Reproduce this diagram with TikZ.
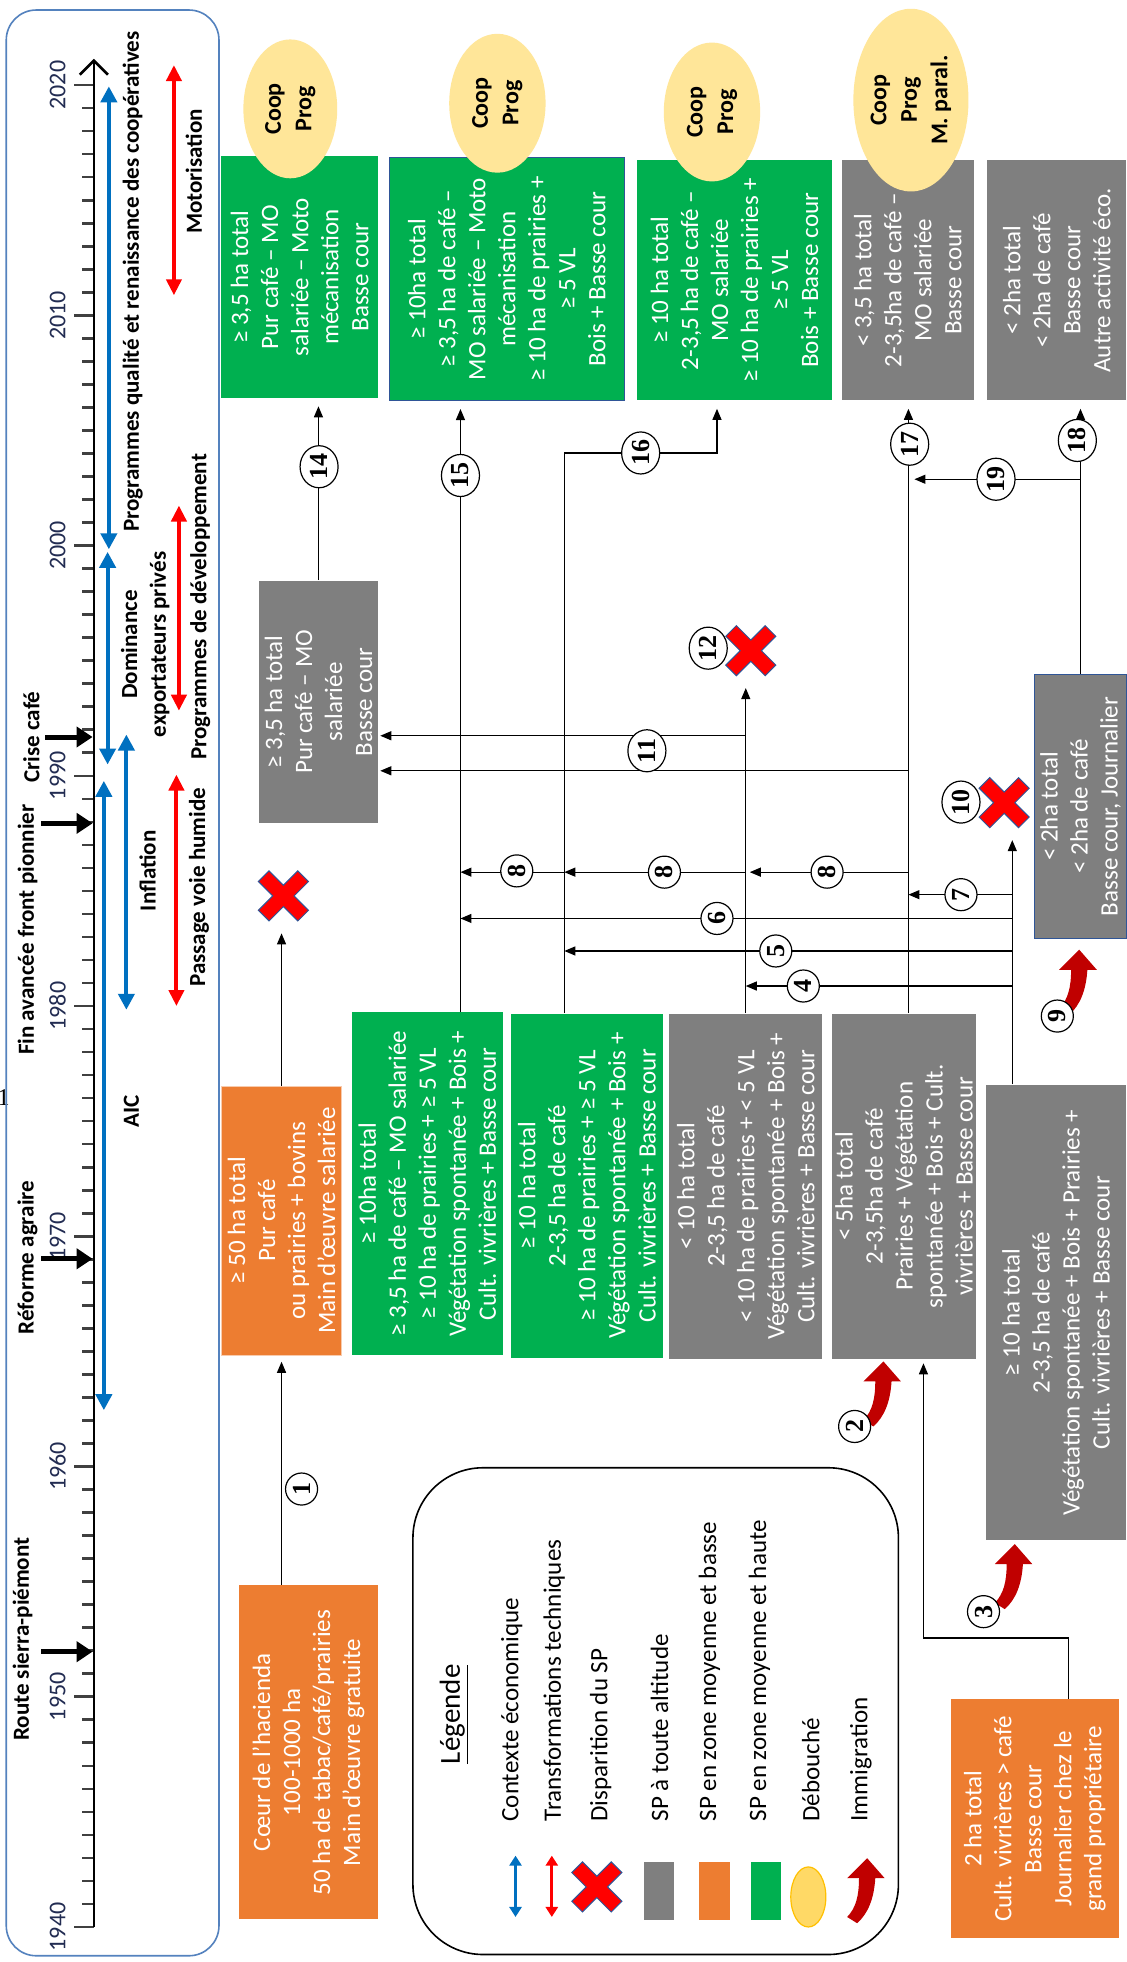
\documentclass[tikz,border=0pt]{standalone}
\usepackage{fontspec}
\setmainfont{Carlito}
\newfontfamily\numfont{Liberation Serif}
\usetikzlibrary{arrows.meta,shapes.geometric}

\definecolor{spgreen}{RGB}{0,176,80}
\definecolor{spgray}{RGB}{127,127,127}
\definecolor{sporange}{RGB}{237,125,49}
\definecolor{coopyellow}{RGB}{255,230,153}
\definecolor{legyellow}{RGB}{255,217,102}
\definecolor{legedge}{RGB}{255,192,0}
\definecolor{ctxblue}{RGB}{0,112,192}
\definecolor{immred}{RGB}{192,0,0}
\definecolor{yearblue}{RGB}{34,44,82}
\definecolor{panelblue}{RGB}{84,130,190}
\definecolor{edgeblue}{RGB}{47,85,151}
\definecolor{axisgray}{RGB}{64,64,64}
\definecolor{peach}{RGB}{248,203,173}

\newcommand{\boxfont}{\fontsize{12.5}{15}\selectfont}
\newcommand{\tlfont}{\bfseries\fontsize{11.5}{14.4}\selectfont}
\newcommand{\yrfont}{\fontsize{12}{14}\selectfont}
\newcommand{\coopfont}{\bfseries\fontsize{12}{15.25}\selectfont}
\newcommand{\nbfont}{\numfont\bfseries\fontsize{13}{13}\selectfont}
\newcommand{\legfont}{\fontsize{14.5}{16}\selectfont}
% red cross (disparition) around a named node
\newcommand{\redx}[1]{\filldraw[crossx, shift={#1}] (8.5,0) -- (20,11.5) -- (11.5,20) -- (0,8.5) -- (-11.5,20) -- (-20,11.5) -- (-8.5,0) -- (-20,-11.5) -- (-11.5,-20) -- (0,-8.5) -- (11.5,-20) -- (20,-11.5) -- cycle;}
% curved immigration arrow, tip at #1
\newcommand{\immarrow}[1]{\fill[immred, shift={#1}] (0,0) -- (14,16) -- (6.5,16) .. controls (5.5,32) and (1,44) .. (-8,52) -- (-16,47) .. controls (-9,40) and (-6.5,30) .. (-6.5,16) -- (-16,16) -- cycle;}

\begin{document}
\begin{tikzpicture}[x=0.625pt,y=-0.625pt]
    \tikzstyle{box}=[rotate=90, align=center, text=white, inner sep=0pt, font=\boxfont]
    \tikzstyle{gbox}=[box, fill=spgreen]
    \tikzstyle{grbox}=[box, fill=spgray]
    \tikzstyle{obox}=[box, fill=sporange]
    \tikzstyle{coop}=[ellipse, rotate=90, fill=coopyellow, align=center, inner sep=0pt, font=\coopfont]
    \tikzstyle{num}=[circle, draw, fill=white, rotate=90, inner sep=0pt, minimum size=16pt, line width=0.6pt, font=\nbfont]
    \tikzstyle{numw}=[num, ellipse, minimum width=21pt, minimum height=19pt]
    \tikzstyle{arr}=[line width=0.6pt, -{Triangle[length=5.5pt,width=4.5pt]}]
    \tikzstyle{xnode}=[minimum size=25pt, inner sep=0pt]
    \tikzstyle{crossx}=[fill=red, draw=edgeblue, line width=0.5pt]
    \tikzstyle{tl}=[rotate=90, align=center, font=\tlfont]
    \tikzstyle{ctx}=[ctxblue, line width=2pt, {Triangle[length=8pt,width=8pt]}-{Triangle[length=8pt,width=8pt]}]
    \tikzstyle{tech}=[red, line width=2pt, {Triangle[length=8pt,width=7.5pt]}-{Triangle[length=8pt,width=7.5pt]}]
    \tikzstyle{evt}=[black, line width=2.5pt, -{Triangle[length=8pt,width=10pt]}]
    \tikzstyle{legtext}=[rotate=90, anchor=west, inner sep=0pt, font=\boxfont]
    \tikzstyle{legsq}=[minimum width=15pt, minimum height=29pt, inner sep=0pt]
    \tikzset{sz/.style 2 args={minimum height=#1*0.625pt, minimum width=#2*0.625pt}}

    \useasboundingbox (0,0) rectangle (900,1568);
    \fill[white] (0,0) rectangle (900,1568);
    \node[font=\numfont\fontsize{12}{12}\selectfont, inner sep=0pt] (pg) at (3,877) {1};

    % time line
    \draw[panelblue, line width=0.8pt, rounded corners=15pt] (5,8) rectangle (175,1563);
    \foreach \y in {0,...,80}
        \draw[axisgray, line width=1.3pt] (75,{1540-\y*18.4}) -- ++(-9.5,0);
    \foreach \yy in {1940,1950,...,2020} {
        \draw[axisgray, line width=1.3pt] (75,{1540-(\yy-1940)*18.4}) -- ++(-16,0);
        \node[rotate=90, text=yearblue, font=\yrfont] (yr\yy) at (46,{1540-(\yy-1940)*18.4}) {\yy};
    }
    \draw[black, line width=1.3pt, -{Straight Barb[length=7pt,width=14pt]}] (75,1540) -- (75,47);

    \draw[evt] (33,1320) -- (74,1320);
    \node[tl] (route) at (18,1310) {Route sierra-piémont};
    \draw[evt] (33,1006) -- (74,1006);
    \node[tl] (reforme) at (22,1005) {Réforme agraire};
    \draw[evt] (33,658) -- (74,658);
    \node[tl] (front) at (22,743) {Fin avancée front pionnier};
    \draw[evt] (36,589) -- (74,589);
    \node[tl] (crise) at (25,589) {Crise café};

    \draw[ctx] (87,69) -- (87,439);
    \node[tl] (qualite) at (106,225) {Programmes qualité et renaissance des coopératives};
    \draw[ctx] (86,441) -- (86,611);
    \node[tl] (dominance) at (116,515) {Dominance\\exportateurs privés};
    \draw[ctx] (83,624) -- (83,1127);
    \node[tl] (aic) at (105,888) {AIC};
    \draw[ctx] (101,587) -- (101,807);
    \node[tl] (inflation) at (118,696) {Inflation};
    \draw[tech] (139,52) -- (139,236);
    \node[tl] (moto) at (155,137) {Motorisation};
    \draw[tech] (143,404) -- (143,568);
    \node[tl] (progdev) at (160,485) {Programmes de développement};
    \draw[tech] (141,619) -- (141,804);
    \node[tl] (voie) at (159,709) {Passage voie humide};

    % production systems
    \node[gbox, sz={125}{193}] (G1) at (239.5,221.5) {≥ 3,5 ha total\\Pur café – MO\\salariée – Moto\\mécanisation\\Basse cour};
    \node[gbox, draw=edgeblue, line width=0.6pt, sz={188}{194}] (G2) at (405,223) {≥ 10ha total\\≥ 3,5 ha de café –\\MO salariée – Moto\\mécanisation\\≥ 10 ha de prairies +\\≥ 5 VL\\Bois + Basse cour};
    \node[gbox, sz={156}{192}] (G3) at (587,224) {≥ 10 ha total\\2-3,5 ha de café –\\MO salariée\\≥ 10 ha de prairies +\\≥ 5 VL\\Bois + Basse cour};
    \node[grbox, sz={105}{192}] (Gr1) at (725.5,224) {< 3,5 ha total\\2-3,5ha de café –\\MO salariée\\Basse cour};
    \node[grbox, sz={111}{192}] (Gr2) at (844.5,224) {< 2ha total\\< 2ha de café\\Basse cour\\Autre activité éco.};
    \node[grbox, sz={95}{194}] (Gr3) at (254.5,561) {≥ 3,5 ha total\\Pur café – MO\\salariée\\Basse cour};
    \node[obox, draw=peach, line width=0.6pt, sz={96}{215}] (O1) at (225,975.5) {≥ 50 ha total\\Pur café\\ou prairies + bovins\\Main d’œuvre salariée};
    \node[gbox, sz={121}{274}] (G4) at (341.5,946) {≥ 10ha total\\≥ 3,5 ha de café – MO salariée\\≥ 10 ha de prairies + ≥ 5 VL\\Végétation spontanée + Bois +\\Cult. vivrières + Basse cour};
    \node[gbox, sz={122}{275}] (G5) at (469,947.5) {≥ 10 ha total\\2-3,5 ha de café\\≥ 10 ha de prairies + ≥ 5 VL\\Végétation spontanée + Bois +\\Cult. vivrières + Basse cour};
    \node[grbox, sz={122}{276}] (Gr4) at (596,948) {< 10 ha total\\2-3,5 ha de café\\< 10 ha de prairies + < 5 VL\\Végétation spontanée + Bois +\\Cult. vivrières + Basse cour};
    \node[grbox, sz={115}{276}] (Gr5) at (722.5,948) {< 5ha total\\2-3,5ha de café\\Prairies + Végétation\\spontanée + Bois + Cult.\\vivrières + Basse cour};
    \node[grbox, sz={112}{364}] (Gr6) at (844,1049) {≥ 10 ha total\\2-3,5 ha de café\\Végétation spontanée + Bois + Prairies +\\Cult. vivrières + Basse cour};
    \node[grbox, draw=edgeblue, line width=0.6pt, sz={73}{211}] (Gr7) at (863.5,644.5) {< 2ha total\\< 2ha de café\\Basse cour, Journalier};
    \node[obox, sz={111}{267}] (O2) at (246.5,1400.5) {Cœur de l’hacienda\\100-1000 ha\\50 ha de tabac/café/prairies\\Main d’œuvre gratuite};
    \node[obox, sz={134}{191}] (O3) at (827,1453.5) {2 ha total\\Cult. vivrières > café\\Basse cour\\Journalier chez le\\grand propriétaire};

    \node[coop, sz={75}{111}] (E1) at (232,87) {Coop\\Prog};
    \node[coop, sz={77}{111}] (E2) at (397.5,82.5) {Coop\\Prog};
    \node[coop, sz={77}{111}] (E3) at (569,89.5) {Coop\\Prog};
    \node[coop, sz={92}{146}] (E4) at (728,80) {Coop\\Prog\\M. paral.};

    \node[xnode] (X1) at (226.5,716) {};
    \node[xnode] (X12) at (600,520) {};
    \node[xnode] (X10) at (802.5,641.5) {};
    \redx{(X1)}
    \redx{(X12)}
    \redx{(X10)}

    % trajectories
    \coordinate (v15) at (368,0);
    \coordinate (v17) at (726,0);
    \coordinate (v10) at (809,0);
    \coordinate (k16a) at (451,362);
    \coordinate (k16b) at (573,362);
    \coordinate (k3a) at (854,1309);
    \coordinate (k3b) at (738,1309);
    \coordinate (h4) at (0,788);
    \coordinate (h5) at (0,760);
    \coordinate (h6) at (0,734);
    \coordinate (h7) at (0,715);
    \coordinate (h8) at (0,697);
    \coordinate (h11a) at (0,588);
    \coordinate (h11b) at (0,616);
    \coordinate (h19) at (0,383);

    \draw[arr, shorten >=3pt] (O2.east -| O1.west) -- (O1.west);
    \draw[arr, shorten >=6pt] (O1.east) -- (X1.south -| O1.east);
    \draw[arr, shorten >=2pt] (O3.east -| k3a) -- (k3a) -- (k3b) -- (Gr5.west -| k3b);
    \draw[arr, shorten >=4pt] (Gr3.east) -- (G1.west -| Gr3.east);
    \draw[arr, shorten >=4pt] (G4.east -| v15) -- (G2.west -| v15);
    \draw[arr, shorten >=4pt] (G5.east -| k16a) -- (k16a) -- (k16b) -- (G3.west -| k16b);
    \draw[arr, shorten >=4pt] (Gr5.east -| v17) -- (Gr1.west -| v17);
    \draw[arr, shorten >=4pt] (Gr7.east) -- (Gr2.west -| Gr7.east);
    \draw[arr, shorten >=6pt] (Gr4.east) -- (X12.south -| Gr4.east);
    \draw[arr, shorten >=6pt] (Gr6.east -| v10) -- (X10.south -| v10);
    \draw[arr, shorten >=3pt] (h19 -| Gr7.east) -- (h19 -| v17);
    \draw[arr] (h4 -| v10) -- (h4 -| Gr4.east);
    \draw[arr] (h5 -| v10) -- (h5 -| k16a);
    \draw[arr] (h6 -| v10) -- (h6 -| v15);
    \draw[arr] (h7 -| v10) -- (h7 -| v17);
    \draw[arr, shorten >=2pt] (h8 -| v17) -- (h8 -| Gr4.east);
    \draw[arr] (h8 -| Gr4.east) -- (h8 -| k16a);
    \draw[arr] (h8 -| k16a) -- (h8 -| v15);
    \draw[arr, shorten >=1pt] (h11a -| Gr4.east) -- (Gr3.south |- h11a);
    \draw[arr, shorten >=1pt] (h11b -| v17) -- (Gr3.south |- h11b);

    \immarrow{(706,1088)}
    \immarrow{(811,1234)}
    \immarrow{(862.5,759)}

    \node[num] (n1) at (241,1190) {1};
    \node[num] (n2) at (683,1140) {2};
    \node[num] (n3) at (786,1288) {3};
    \node[num] (n4) at (642,788) {4};
    \node[num] (n5) at (620,760) {5};
    \node[num] (n6) at (573,734) {6};
    \node[num] (n7) at (768,715) {7};
    \node[num] (n8a) at (661,697) {8};
    \node[num] (n8b) at (531,697) {8};
    \node[num] (n8c) at (413,696) {8};
    \node[num] (n9) at (845,812) {9};
    \node[numw] (n10) at (768,641) {10};
    \node[numw] (n11) at (517,600) {11};
    \node[numw] (n12) at (566,518) {12};
    \node[numw] (n14) at (255,373) {14};
    \node[numw] (n15) at (368,380) {15};
    \node[numw] (n16) at (512,362) {16};
    \node[numw] (n17) at (727,355) {17};
    \node[numw] (n18) at (861,352) {18};
    \node[numw] (n19) at (796,383) {19};

    % legend
    \draw[black, line width=0.8pt, rounded corners=35pt] (330,1173) rectangle (718,1562);
    \node[rotate=90, font=\legfont] (legtitle) at (363,1370) {\underline{Légende}};
    \draw[ctx, line width=1.5pt, {Triangle[length=5pt,width=6pt]}-{Triangle[length=5pt,width=6pt]}] (412,1483) -- (412,1532);
    \draw[tech, line width=1.5pt, {Triangle[length=5pt,width=6pt]}-{Triangle[length=5pt,width=6pt]}] (441,1483) -- (441,1532);
    \node[xnode] (LX) at (477,1508) {};
    \redx{(LX)}
    \node[legsq, fill=spgray] (LG) at (527,1511.5) {};
    \node[legsq, fill=sporange] (LO) at (571,1511.5) {};
    \node[legsq, fill=spgreen] (LV) at (612,1511.5) {};
    \node[ellipse, fill=legyellow, draw=legedge, line width=0.6pt, minimum width=17.5pt, minimum height=30pt, inner sep=0pt] (LE) at (646,1516) {};
    \immarrow{(693,1485)}
    \node[legtext] (t1) at (409,1456) {Contexte économique};
    \node[legtext] (t2) at (443,1456) {Transformations techniques};
    \node[legtext] (t3) at (480,1456) {Disparition du SP};
    \node[legtext] (t4) at (527,1456) {SP à toute altitude};
    \node[legtext] (t5) at (567,1456) {SP en zone moyenne et basse};
    \node[legtext] (t6) at (607,1456) {SP en zone moyenne et haute};
    \node[legtext] (t7) at (648,1456) {Débouché};
    \node[legtext] (t8) at (688,1456) {Immigration};
\end{tikzpicture}
\end{document}
